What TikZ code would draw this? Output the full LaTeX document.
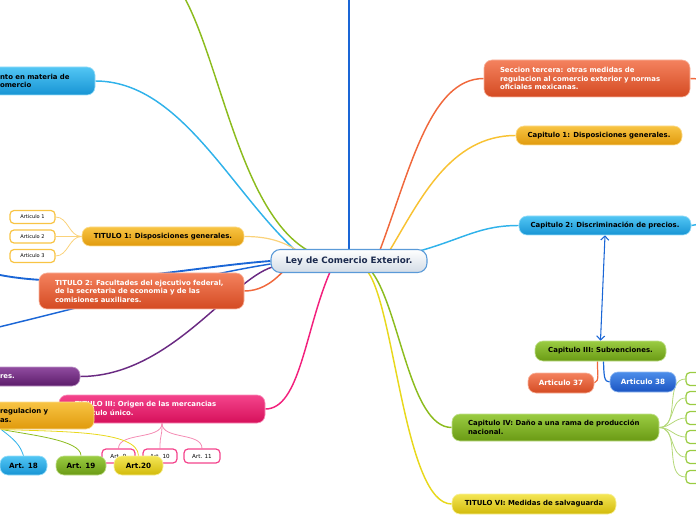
\documentclass[tikz,border=0pt]{standalone}
\usepackage{fontspec}
\setmainfont{DejaVu Sans}
\usetikzlibrary{arrows.meta,backgrounds,calc}

\definecolor{naranjaT}{HTML}{F4825E}
\definecolor{naranjaB}{HTML}{D44A22}
\definecolor{amarilloT}{HTML}{F8C444}
\definecolor{amarilloB}{HTML}{E09A0C}
\definecolor{celesteT}{HTML}{52C6F4}
\definecolor{celesteB}{HTML}{1794D4}
\definecolor{verdeT}{HTML}{9ACC42}
\definecolor{verdeB}{HTML}{6A9A14}
\definecolor{azulT}{HTML}{4C8EEA}
\definecolor{azulB}{HTML}{1A54C2}
\definecolor{limonT}{HTML}{F4E656}
\definecolor{limonB}{HTML}{D2BA0A}
\definecolor{rosaT}{HTML}{F4448C}
\definecolor{rosaB}{HTML}{D6105A}
\definecolor{moradoT}{HTML}{904CA0}
\definecolor{moradoB}{HTML}{5C1C6A}
\definecolor{leyB}{HTML}{D3DCE6}
\definecolor{leyborde}{HTML}{5A9AD8}
\definecolor{leytexto}{HTML}{1B2A4E}
\definecolor{lnazul}{HTML}{1A66D6}
\definecolor{lnverde}{HTML}{8CBC1E}
\definecolor{lnceleste}{HTML}{30B2EA}
\definecolor{lnnaranja}{HTML}{F0683C}
\definecolor{lnamarillo}{HTML}{F8C232}
\definecolor{lnlimon}{HTML}{E8D81C}
\definecolor{lnrosa}{HTML}{F2207C}
\definecolor{lnmorado}{HTML}{6A2A82}
\definecolor{lnverdeclaro}{HTML}{B4D878}
\definecolor{lnamarilloclaro}{HTML}{FAD27A}
\definecolor{lnrosaclaro}{HTML}{F48CB4}

\tikzset{
  caja/.style={rounded corners=6pt, inner ysep=0pt, inner xsep=4pt, line width=0.5pt,
    font=\bfseries\fontsize{5.2}{6.4}\selectfont},
  relleno/.style={top color=#1T, bottom color=#1B, draw=#1T!60!white},
  ancho/.style={minimum width=#1*0.75pt},
  alto/.style={minimum height=#1*0.75pt},
  parrafo/.style={align=left, inner xsep=12pt, text width=(#1-32)*0.75pt},
  art/.style={font=\bfseries\fontsize{5.4}{6.5}\selectfont, inner xsep=1pt},
  hoja/.style={rounded corners=3pt, fill=white, line width=0.9pt, inner sep=0pt,
    font=\fontsize{3.8}{4.5}\selectfont},
  rama/.style={line width=1.1pt},
  ramita/.style={line width=0.6pt}
}

\begin{document}
\begin{tikzpicture}[x=0.75pt,y=-0.75pt]
\useasboundingbox (0,0) rectangle (696,520);

\node[rounded corners=7pt, top color=white, bottom color=leyB, draw=leyborde, line width=0.8pt,
  ancho=156, alto=23, text=leytexto, font=\bfseries\fontsize{6.6}{8}\selectfont] (ley) at (349,261) {Ley de Comercio Exterior.};

\node[caja, relleno=naranja, text=white, parrafo=206, alto=37] (seccion) at (587,78.5) {Seccion tercera: otras medidas de\\regulacion al comercio exterior y normas\\oficiales mexicanas.};
\node[caja, relleno=amarillo, ancho=166, alto=19] (cap1) at (599,135.5) {Capitulo 1: Disposiciones generales.};
\node[caja, relleno=celeste, ancho=172, alto=19] (cap2) at (605,225.5) {Capitulo 2: Discriminación de precios.};
\node[caja, relleno=verde, ancho=131, alto=20] (cap3) at (600.5,351) {Capitulo III: Subvenciones.};
\node[caja, art, relleno=naranja, text=white, ancho=66, alto=20] (art37) at (561,383) {Articulo 37};
\node[caja, art, relleno=azul, text=white, ancho=66, alto=20] (art38) at (643,382) {Articulo 38};
\node[caja, relleno=verde, parrafo=207, alto=27] (cap4) at (555.5,427.5) {Capitulo IV: Daño a una rama de producción\\nacional.};
\foreach \y [count=\i] in {379,398,418,437,457,477}
  \node[hoja, draw=verdeT, ancho=24, alto=13] (hoja\i) at (698,\y) {};
\node[caja, relleno=limon, ancho=164, alto=20] (tit6) at (534,504) {TITULO VI: Medidas de salvaguarda};

\node[caja, relleno=celeste, parrafo=111, alto=28] (comercio) at (39.5,81) {nto en materia de\\omercio};
\node[caja, relleno=amarillo, ancho=162, alto=19] (tit1) at (163,236.5) {TITULO 1: Disposiciones generales.};
\foreach \y [count=\i] in {217,236.5,256}
  \node[hoja, draw=amarilloT, ancho=45, alto=13] (articulo\i) at (32.5,\y) {Articulo \i};
\node[caja, relleno=naranja, text=white, parrafo=205, alto=36] (tit2) at (141.5,291) {TITULO 2: Facultades del ejecutivo federal,\\de la secretaria de economia y de las\\comisiones auxiliares.};
\node[caja, relleno=morado, text=white, parrafo=96, alto=19] (morado) at (32,376.5) {res.};
\node[caja, relleno=rosa, text=white, parrafo=206, alto=28] (tit3) at (162,409) {TITULO III: Origen de las mercancias\\Capitulo único.};
\node[hoja, draw=rosaT, ancho=33, alto=14, font=\fontsize{4.2}{5}\selectfont] (art9) at (118.5,456) {Art. 9};
\node[hoja, draw=rosaT, ancho=34, alto=14, font=\fontsize{4.2}{5}\selectfont] (art10) at (160,456) {Art. 10};
\node[hoja, draw=rosaT, ancho=36, alto=14, font=\fontsize{4.2}{5}\selectfont] (art11) at (202,456) {Art. 11};
\node[caja, relleno=amarillo, parrafo=110, alto=27] (regula) at (39,415.5) {regulacion y\\as.};
\node[caja, art, relleno=celeste, ancho=47, alto=19] (art18) at (23.5,465.5) {Art. 18};
\node[caja, art, relleno=verde, ancho=50, alto=19] (art19) at (81,465.5) {Art. 19};
\node[caja, art, relleno=limon, ancho=49, alto=19] (art20) at (138.5,465.5) {Art.20};

\coordinate (arriba) at (349,-5);
\coordinate (verdearriba) at (183,-5);
\coordinate (izq1) at (-5,274);
\coordinate (izq2) at (-5,328);
\coordinate (derecha1) at (700,79);
\coordinate (derecha2) at (700,224);

\begin{scope}[on background layer]
\draw[rama, lnazul, line width=1.4pt] (ley.north) -- (arriba);
\draw[rama, lnverde] ($(ley.north)+(-42,1)$) .. controls (240,210) and (220,60) .. (verdearriba);
\draw[rama, lnceleste] ($(ley.north)+(-54,1)$) .. controls (230,190) and (180,81) .. (comercio.east);
\draw[rama, lnnaranja] ($(ley.north)+(31,1)$) .. controls (410,170) and (430,78.5) .. (seccion.west);
\draw[rama, lnamarillo] ($(ley.north)+(41,1)$) .. controls (420,200) and (450,135.5) .. (cap1.west);
\draw[rama, lnceleste] ($(ley.north east)+(-8,2)$) .. controls (465,238) and (480,225.5) .. (cap2.west);
\draw[rama, lnnaranja] (seccion.east) -- (derecha1);
\draw[rama, lnceleste] (cap2.east) -- (derecha2);
\draw[ramita, lnnaranja, line width=0.9pt] ($(cap3.south)+(-3,0)$) .. controls (597,372) and (600,381) .. (art37.east);
\draw[ramita, lnazul, line width=0.9pt] ($(cap3.south)+(3,0)$) .. controls (604,376) and (604,382) .. (art38.west);
\draw[rama, lnverde] ($(ley.south)+(23,-1)$) .. controls (400,310) and (410,427.5) .. (cap4.west);
\foreach \i in {1,...,6}
  \draw[ramita, lnverdeclaro] (cap4.east) to[out=0,in=180] (hoja\i.west);
\draw[rama, lnlimon] ($(ley.south)+(19,-1)$) .. controls (395,310) and (405,504) .. (tit6.west);
\draw[rama, lnrosa] ($(ley.south)+(-19,-1)$) .. controls (305,330) and (300,409) .. (tit3.east);
\draw[rama, lnnaranja] ($(ley.south west)+(12,-1)$) .. controls (270,285) and (258,291) .. (tit2.east);
\draw[rama, lnmorado] ($(ley.west)+(2,6)$) .. controls (230,280) and (170,376.5) .. (morado.east);
\draw[rama, lnazul, line width=1.4pt] (ley.west) .. controls (180,268) and (80,292) .. (izq1);
\draw[rama, lnazul] ($(ley.west)+(0,3)$) .. controls (200,275) and (110,300) .. (izq2);
\draw[ramita, lnamarilloclaro, line width=0.9pt] ($(ley.north west)+(26,1)$) .. controls (280,240) and (265,236.5) .. (tit1.east);
\foreach \i in {1,2,3}
  \draw[ramita, lnamarilloclaro] (tit1.west) to[out=180,in=0] (articulo\i.east);
\draw[ramita, lnrosaclaro] (tit3.south) .. controls (162,440) and (118.5,432) .. (art9.north);
\draw[ramita, lnrosaclaro] (tit3.south) .. controls (162,440) and (160,432) .. (art10.north);
\draw[ramita, lnrosaclaro] (tit3.south) .. controls (162,440) and (202,432) .. (art11.north);
\draw[ramita, lnceleste] (regula.200) .. controls (15,440) and (20,445) .. (art18.north);
\draw[ramita, lnverde] (regula.200) .. controls (30,435) and (81,440) .. (art19.north);
\draw[ramita, lnlimon] (regula.200) .. controls (60,432) and (138,430) .. (art20.north);
\end{scope}

\draw[ramita, lnazul, line width=0.8pt, {Straight Barb[length=3pt]}-{Straight Barb[length=3pt]}] (cap2.south) -- (cap3.north);
\end{tikzpicture}
\end{document}
